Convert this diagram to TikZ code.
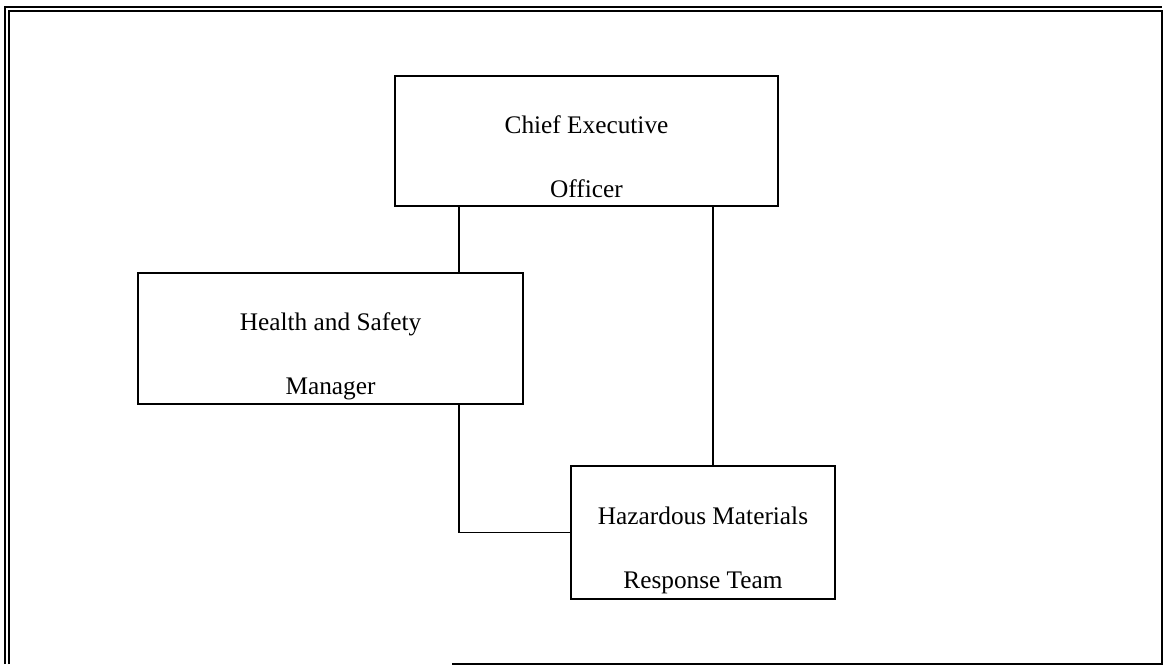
\documentclass[tikz,border=0pt]{standalone}
\usepackage{fontspec}
\setmainfont{Liberation Serif}
\usepackage{tikz}

\newcommand{\twolines}[2]{\rule{0pt}{41pt}#1\\[23.9pt]#2\rule[-6.4pt]{0pt}{6.4pt}}

\begin{document}
\begin{tikzpicture}[x=0.025cm, y=-0.025cm]
\tikzset{
    orgbox/.style={rectangle, draw=black, line width=1.3pt, fill=white, inner sep=0pt, align=center, font=\fontsize{18}{21.6}\selectfont},
    orgline/.style={line width=1.3pt},
    frameline/.style={line width=1.4pt}
}
\useasboundingbox (0,0) rectangle (1165,665);

% frame
\draw[frameline] (5,664) -- (5,7) -- (1162,7);
\draw[frameline] (9,664) -- (9,11) -- (1162,11) -- (1162,664) -- (452,664);

\node[orgbox, minimum width=9.575cm, minimum height=3.25cm] (ceo) at (586.5,141) {\twolines{Chief Executive}{Officer}};
\node[orgbox, minimum width=9.625cm, minimum height=3.275cm] (safety) at (330.5,338.5) {\twolines{Health and Safety}{Manager}};
\node[orgbox, minimum width=6.6cm, minimum height=3.325cm] (hazmat) at (703,532.5) {\twolines{Hazardous Materials}{Response Team}};

\draw[orgline] ([xshift=3.21cm]safety.north) -- ([xshift=3.21cm]safety.north |- ceo.south);
\draw[orgline] ([xshift=0.25cm]hazmat.north) -- ([xshift=0.25cm]hazmat.north |- ceo.south);
\draw[orgline] ([xshift=3.21cm]safety.south) |- (hazmat.west);

\end{tikzpicture}
\end{document}
